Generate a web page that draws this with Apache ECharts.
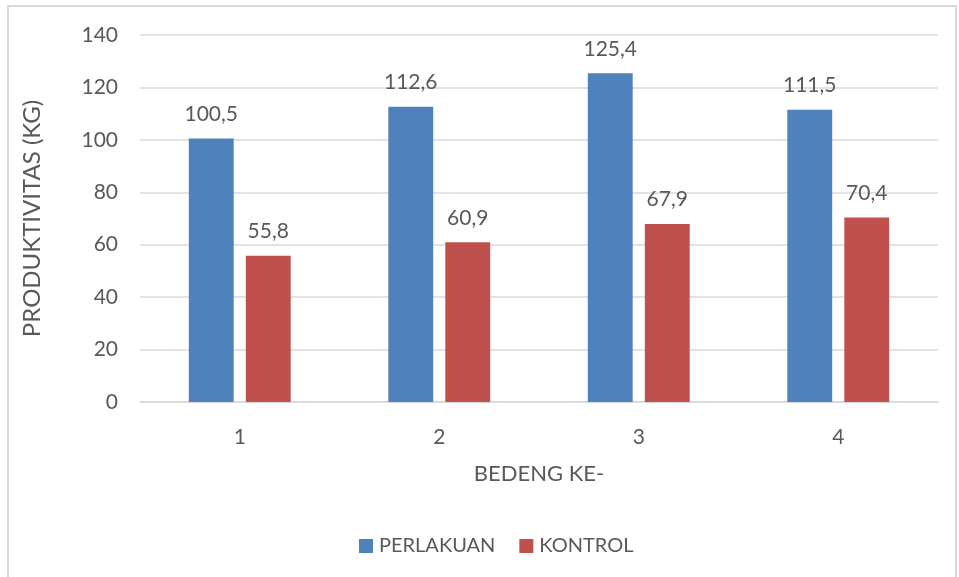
<!DOCTYPE html>
<html><head><meta charset="utf-8">
<script src="https://cdn.jsdelivr.net/npm/echarts@6/dist/echarts.min.js"></script>
<style>html,body{margin:0;padding:0;background:#fff}
#frame{position:absolute;left:7px;top:5px;width:950px;height:580px;border:2px solid #d9d9d9;box-sizing:border-box}
#c{position:absolute;left:0;top:0;width:959px;height:577px}</style>
</head><body>
<div id="frame"></div>
<div id="c"></div>
<script>
const categories = ['1','2','3','4'];
const perlakuan = [100.5, 112.6, 125.4, 111.5];
const kontrol = [55.8, 60.9, 67.9, 70.4];
const yTicks = [0,20,40,60,80,100,120,140];
const chart = echarts.init(document.getElementById('c'));
const FONT = 'Lato';
const TXT = '#595959';
const lbl = {show:true, position:'top', distance:14, color:TXT, fontSize:21, fontFamily:FONT,
  formatter: p => String(p.value).replace('.', ',')};
chart.setOption({
  animation:false,
  textStyle:{fontFamily:FONT},
  grid:{left:140, right:21, top:35, bottom:175, containLabel:false},
  xAxis:{type:'category', data:categories,
    axisLine:{lineStyle:{color:'#d9d9d9', width:1.5}}, axisTick:{show:false},
    axisLabel:{color:TXT, fontSize:21, fontFamily:FONT, margin:25},
    name:'BEDENG KE-', nameLocation:'middle', nameGap:61,
    nameTextStyle:{color:TXT, fontSize:22, fontFamily:FONT}},
  yAxis:{type:'value', min:yTicks[0], max:yTicks[yTicks.length-1], interval:20,
    axisLine:{show:false}, axisTick:{show:false},
    splitLine:{lineStyle:{color:'#d9d9d9', width:1.5}},
    axisLabel:{color:TXT, fontSize:21, fontFamily:FONT, margin:22},
    name:'PRODUKTIVITAS (KG)', nameLocation:'middle', nameGap:96,
    nameTextStyle:{color:TXT, fontSize:24, fontFamily:FONT}},
  legend:{top:531, left:354, itemWidth:14, itemHeight:14, itemGap:24, icon:'rect',
    textStyle:{color:TXT, fontSize:20, fontFamily:FONT, padding:[0,0,0,1]},
    data:['PERLAKUAN','KONTROL']},
  series:[
    {name:'PERLAKUAN', type:'bar', data:perlakuan, barWidth:'22.5%', barGap:'27%',
     itemStyle:{color:'#4F81BD'}, label:lbl},
    {name:'KONTROL', type:'bar', data:kontrol, barWidth:'22.5%', barGap:'27%',
     itemStyle:{color:'#C0504D'}, label:lbl}
  ]
});
</script>
</body></html>
